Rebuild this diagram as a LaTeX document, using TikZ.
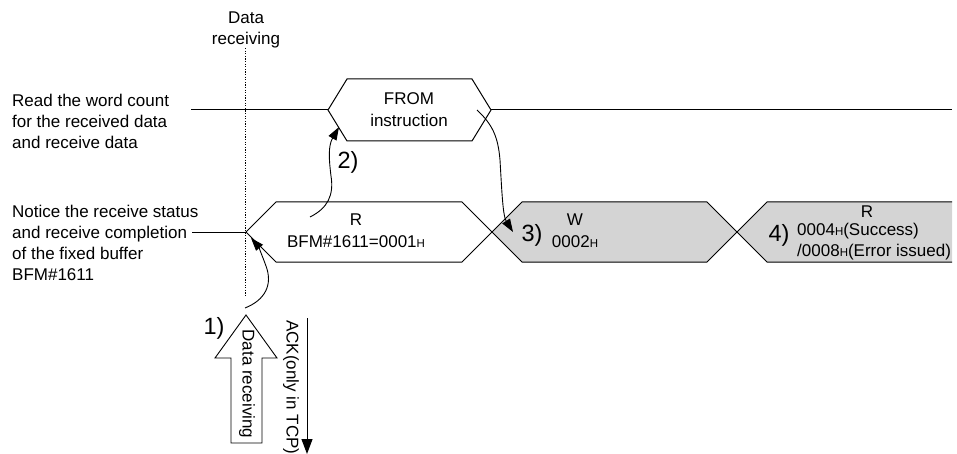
\documentclass[tikz,border=0pt]{standalone}
\usepackage{fontspec}
\setmainfont{Liberation Sans}
\usetikzlibrary{arrows.meta}
\definecolor{hexgrey}{RGB}{212,212,212}
\newcommand{\hsmall}{{\fontsize{11.5}{11.5}\selectfont H}}
\tikzset{
  wire/.style={line width=1pt, black},
  hexbox/.style={line width=1pt, black, line join=miter},
  lbl/.style={inner sep=0pt, font=\fontsize{17}{21}\selectfont},
  hextxt/.style={inner sep=0pt, align=center, font=\fontsize{17}{22}\selectfont},
  numlbl/.style={inner sep=0pt, font=\fontsize{23.5}{23.5}\selectfont},
  curvearrow/.style={line width=0.9pt, -{Triangle[width=9pt,length=13pt]}},
  markline/.style={line width=0.9pt, dash pattern=on 1.3pt off 1.3pt},
}
\begin{document}
\begin{tikzpicture}[x=1pt,y=-1pt]
\useasboundingbox (0,0) rectangle (957,454);

% left labels
\node[lbl, anchor=west, align=left] (readtxt) at (12,121)
  {Read the word count\\for the received data\\and receive data};
\node[lbl, anchor=west, align=left] (noticetxt) at (12,243)
  {Notice the receive status\\and receive completion\\of the fixed buffer\\BFM\#1611};
\node[lbl, align=center] (datarx) at (246,30) {Data\\receiving};

% dotted marker
\coordinate (dtop) at (245,48);
\coordinate (dbot) at (245,297);
\draw[markline] (dtop) -- (dbot);

% upper signal
\coordinate (uL) at (191,110);
\coordinate (fL) at (328,110);
\coordinate (fR) at (491,110);
\coordinate (uR) at (952,110);
\draw[wire] (uL) -- (fL);
\draw[wire] (fR) -- (uR);
\draw[hexbox] (fL) -- (347,79) -- (472,79) -- (fR) -- (472,141) -- (347,141) -- cycle;
\node[hextxt] (fromtxt) at (409,110) {FROM\\instruction};

% lower signal
\coordinate (lL) at (192,232);
\coordinate (r1L) at (246,232);
\coordinate (r1R) at (492,232);
\coordinate (wR) at (737,232);
\draw[wire] (lL) -- (r1L);
\draw[hexbox] (r1L) -- (276,202) -- (462,202) -- (r1R) -- (462,262) -- (276,262) -- cycle;
\node[hextxt] (r1txt) at (356,231) {R\\BFM\#1611=0001\hsmall};

\draw[hexbox, fill=hexgrey] (r1R) -- (522,202) -- (707,202) -- (wR) -- (707,262) -- (522,262) -- cycle;
\node[hextxt] (wtxt) at (575,231) {W\\0002\hsmall};

\fill[hexgrey] (wR) -- (767,202) -- (952,202) -- (952,262) -- (767,262) -- cycle;
\draw[hexbox] (952,202) -- (767,202) -- (wR) -- (767,262) -- (952,262);
\node[hextxt] (r4R) at (867,212) {R};
\node[lbl, anchor=west, align=left, font=\fontsize{17}{21}\selectfont] (r4txt) at (797,242)
  {0004\hsmall(Success)\\/0008\hsmall(Error issued)};

% step numbers
\node[numlbl] (n1) at (214,328) {1)};
\node[numlbl] (n2) at (348,162) {2)};
\node[numlbl] (n3) at (532,235) {3)};
\node[numlbl] (n4) at (779,235) {4)};

% curved arrows
\coordinate (a1s) at (245,308);
\coordinate (a1e) at (251,238);
\draw[curvearrow] (a1s) .. controls (265,300) and (273,285) .. (266,266)
  .. controls (262,255) and (258,246) .. (a1e);

\coordinate (a2s) at (310,217);
\coordinate (a2e) at (339,127);
\draw[curvearrow] (a2s) .. controls (328,208) and (334,195) .. (331,176)
  .. controls (329,160) and (328,146) .. (a2e);

\coordinate (a3s) at (477,110);
\coordinate (a3e) at (513,232);
\draw[curvearrow] (a3s) .. controls (492,124) and (498,136) .. (500,160)
  .. controls (502,195) and (503,216) .. (a3e);

% hollow data receiving arrow
\draw[line width=0.9pt, fill=white, line join=miter]
  (246,315) -- (277,358) -- (262,358) -- (262,443) -- (231,443) -- (231,358) -- (215,358) -- cycle;
\node[lbl, rotate=-90] (rxtxt) at (247,384) {Data receiving};

% ACK arrow
\coordinate (ackT) at (307,318);
\coordinate (ackB) at (307,454);
\draw[line width=1pt, -{Triangle[width=11pt,length=15pt]}] (ackT) -- (ackB);
\node[lbl, rotate=-90, anchor=west] (acktxt) at (291,320) {ACK(only in TCP)};
\end{tikzpicture}
\end{document}
